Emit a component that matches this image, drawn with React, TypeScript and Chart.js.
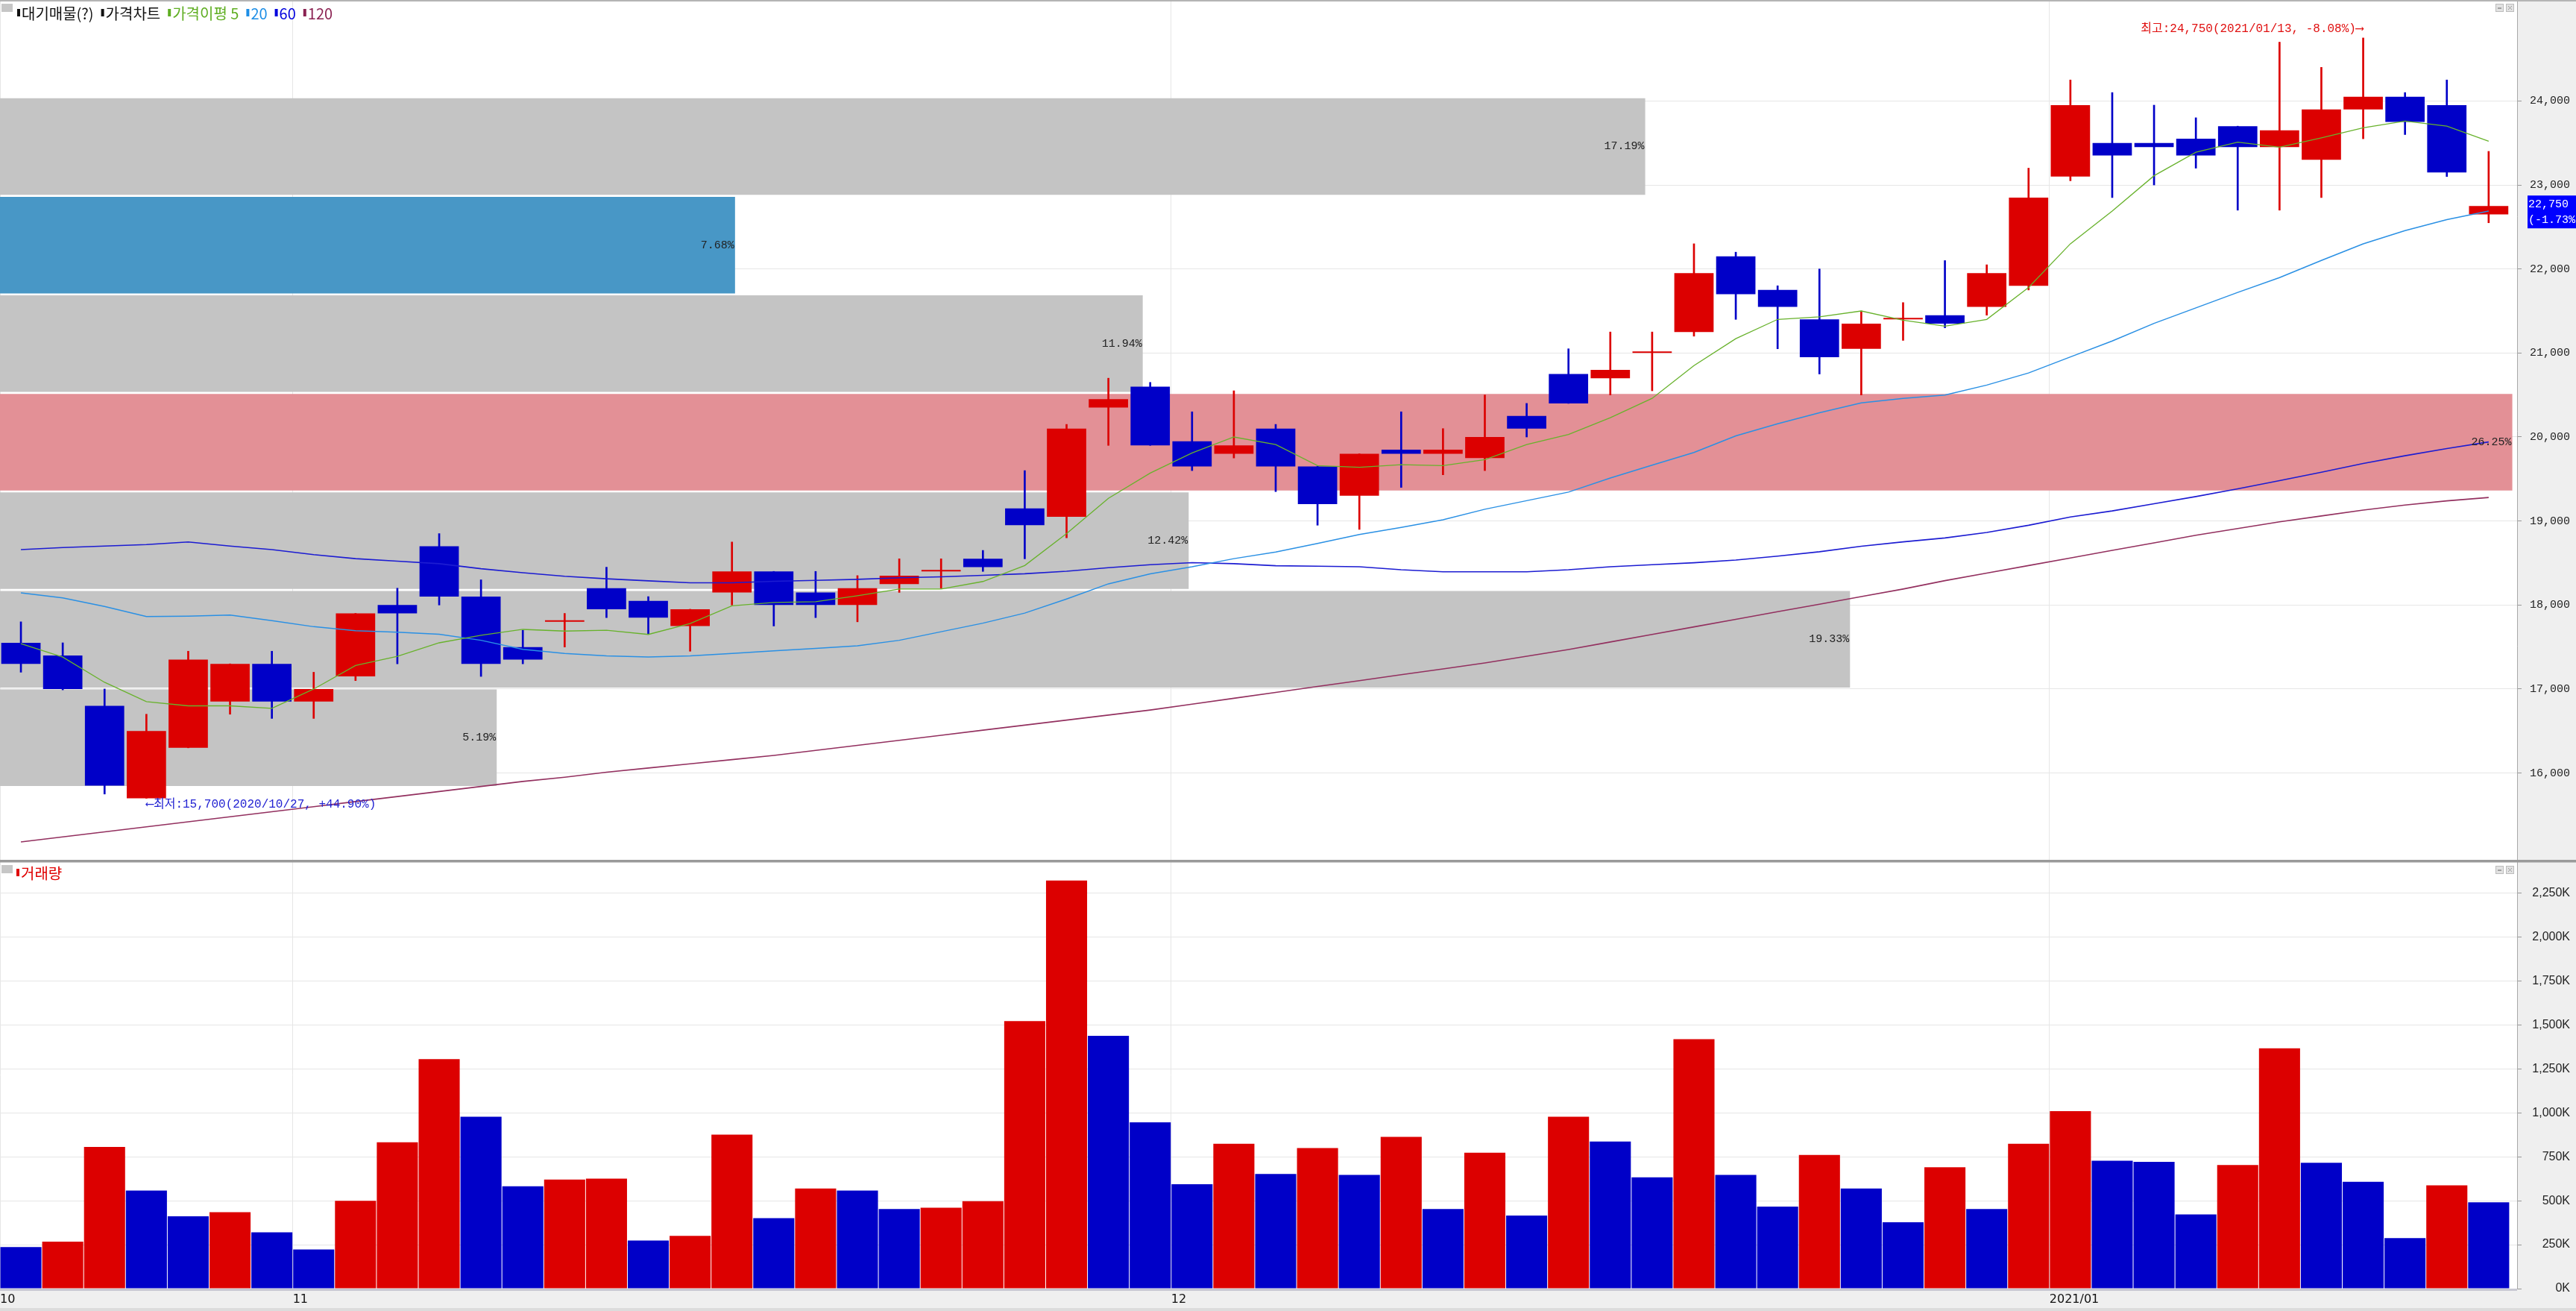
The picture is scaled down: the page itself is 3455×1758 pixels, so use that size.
import { useEffect, useRef } from 'react';
import { Chart, registerables } from 'chart.js';

Chart.register(...registerables);

// ---------------- data ----------------
const dates = [
  '2020/10/22', '2020/10/23', '2020/10/26', '2020/10/27', '2020/10/28', '2020/10/29', '2020/10/30',
  '2020/11/02', '2020/11/03', '2020/11/04', '2020/11/05', '2020/11/06', '2020/11/09', '2020/11/10',
  '2020/11/11', '2020/11/12', '2020/11/13', '2020/11/16', '2020/11/17', '2020/11/18', '2020/11/19',
  '2020/11/20', '2020/11/23', '2020/11/24', '2020/11/25', '2020/11/26', '2020/11/27', '2020/11/30',
  '2020/12/01', '2020/12/02', '2020/12/03', '2020/12/04', '2020/12/07', '2020/12/08', '2020/12/09',
  '2020/12/10', '2020/12/11', '2020/12/14', '2020/12/15', '2020/12/16', '2020/12/17', '2020/12/18',
  '2020/12/21', '2020/12/22', '2020/12/23', '2020/12/24', '2020/12/28', '2020/12/29', '2020/12/30',
  '2021/01/04', '2021/01/05', '2021/01/06', '2021/01/07', '2021/01/08', '2021/01/11', '2021/01/12',
  '2021/01/13', '2021/01/14', '2021/01/15', '2021/01/18',
];

const opens = [
  17550, 17400, 16800, 15700, 16300, 16850, 17300, 16850, 17150, 18000,
  18700, 18100, 17500, 17800, 18200, 18050, 17750, 18150, 18400, 18150,
  18000, 18250, 18400, 18550, 19150, 19050, 20350, 20600, 19950, 19800,
  20100, 19650, 19300, 19850, 19800, 19750, 20250, 20750, 20700, 21000,
  21250, 22150, 21750, 21400, 21050, 21400, 21450, 21550, 21800, 23100,
  23500, 23500, 23550, 23700, 23450, 23300, 23900, 24050, 23950, 22650,
];
const highs = [
  17800, 17550, 17000, 16700, 17450, 17300, 17450, 17200, 17900, 18200,
  18850, 18300, 17700, 17900, 18450, 18100, 17950, 18750, 18400, 18400,
  18350, 18550, 18550, 18650, 19600, 20150, 20700, 20650, 20300, 20550,
  20150, 19650, 19800, 20300, 20100, 20500, 20400, 21050, 21250, 21250,
  22300, 22200, 21800, 22000, 21500, 21600, 22100, 22050, 23200, 24250,
  24100, 23950, 23800, 23700, 24700, 24400, 24750, 24100, 24250, 23400,
];
const lows = [
  17200, 16990, 15750, 15700, 16300, 16700, 16650, 16650, 17100, 17300,
  18000, 17150, 17300, 17500, 17850, 17650, 17450, 18000, 17750, 17850,
  17800, 18150, 18200, 18400, 18550, 18800, 19900, 19900, 19600, 19750,
  19350, 18950, 18900, 19400, 19550, 19600, 20000, 20400, 20500, 20550,
  21200, 21400, 21050, 20750, 20500, 21150, 21300, 21450, 21750, 23050,
  22850, 23000, 23200, 22700, 22700, 22850, 23550, 23600, 23100, 22550,
];
const closes = [
  17300, 17000, 15850, 16500, 17350, 17300, 16850, 17000, 17900, 17900,
  18100, 17300, 17350, 17800, 17950, 17850, 17950, 18400, 18000, 18000,
  18200, 18350, 18400, 18450, 18950, 20100, 20450, 19900, 19650, 19900,
  19650, 19200, 19800, 19800, 19850, 20000, 20100, 20400, 20800, 21000,
  21950, 21700, 21550, 20950, 21350, 21400, 21350, 21950, 22850, 23950,
  23350, 23450, 23350, 23450, 23650, 23900, 24050, 23750, 23150, 22750,
];
const volumes = [
  236000, 267000, 806000, 558000, 411000, 435000, 320000, 223000, 499000, 832000,
  1305000, 978000, 582000, 620000, 626000, 274000, 300000, 876000, 401000, 569000,
  558000, 453000, 460000, 497000, 1521000, 2321000, 1438000, 946000, 594000, 824000,
  652000, 799000, 647000, 863000, 453000, 773000, 416000, 978000, 837000, 633000,
  1419000, 647000, 466000, 760000, 569000, 377000, 690000, 453000, 824000, 1009000,
  727000, 721000, 422000, 703000, 1367000, 716000, 607000, 287000, 587000, 491000,
];
const ma5 = [
  17540, 17380, 17080, 16850, 16800, 16800, 16770, 17000, 17280, 17390,
  17550, 17640, 17710, 17690, 17700, 17650, 17780, 17990, 18030, 18040,
  18110, 18190, 18190, 18280, 18470, 18850, 19270, 19570, 19810, 20000,
  19910, 19660, 19640, 19670, 19660, 19730, 19910, 20030, 20230, 20460,
  20850, 21170, 21400, 21430, 21500, 21390, 21320, 21400, 21780, 22300,
  22690, 23110, 23390, 23510, 23450, 23560, 23680, 23760, 23700, 23520,
];
const ma20 = [
  18144, 18084, 17982, 17862, 17868, 17880, 17814, 17742, 17694, 17676,
  17652, 17580, 17472, 17424, 17394, 17382, 17394, 17424, 17454, 17484,
  17514, 17580, 17682, 17784, 17904, 18072, 18252, 18372, 18456, 18552,
  18630, 18732, 18840, 18924, 19014, 19140, 19242, 19344, 19512, 19665,
  19816, 20013, 20158, 20289, 20407, 20460, 20499, 20618, 20762, 20953,
  21143, 21353, 21537, 21721, 21898, 22102, 22299, 22457, 22588, 22690,
];
const ma60 = [
  18660, 18684, 18702, 18720, 18750, 18702, 18660, 18600, 18552, 18522,
  18492, 18432, 18384, 18342, 18312, 18288, 18264, 18264, 18282, 18294,
  18306, 18324, 18336, 18354, 18372, 18402, 18444, 18480, 18504, 18492,
  18468, 18462, 18456, 18420, 18396, 18396, 18396, 18420, 18456, 18480,
  18503, 18536, 18582, 18634, 18700, 18752, 18798, 18864, 18949, 19048,
  19120, 19205, 19291, 19383, 19481, 19580, 19685, 19777, 19862, 19941,
];
const ma120 = [
  15180, 15240, 15300, 15360, 15420, 15480, 15540, 15600, 15660, 15720,
  15780, 15840, 15900, 15950, 16010, 16060, 16110, 16160, 16210, 16270,
  16330, 16390, 16450, 16510, 16570, 16630, 16690, 16750, 16820, 16890,
  16960, 17030, 17100, 17170, 17240, 17310, 17390, 17470, 17560, 17650,
  17740, 17830, 17920, 18010, 18100, 18190, 18290, 18380, 18470, 18560,
  18650, 18740, 18830, 18910, 18990, 19060, 19130, 19190, 19240, 19280,
];
// volume-at-price bands (bottom to top)
const bandEdges = [15833, 17006, 18179, 19352, 20525, 21698, 22871, 24044];
const bandPct = [5.19, 19.33, 12.42, 26.25, 11.94, 7.68, 17.19];

const priceTicks = [16000, 17000, 18000, 19000, 20000, 21000, 22000, 23000, 24000];
const volumeTicks = [0, 250000, 500000, 750000, 1000000, 1250000, 1500000, 1750000, 2000000, 2250000];

// ---------------- styling ----------------
const W = 3455;
const TOP_H = 1155;
const BOT_H = 603;
const X_MIN = -0.5;
const X_MAX = 59.68;
const PRICE_MIN = 14958;
const PRICE_MAX = 25184;
const VOL_MAX = 2430000;

const RED = '#dc0000';
const BLUE = '#0000c8';
const BAND_GRAY = '#c4c4c4';
const BAND_BLUE = '#4897c6';
const BAND_PINK = '#e39096';
const GRID = '#e6e6e6';
const AXIS_BG = '#efefef';
const MONO = '"Liberation Mono", "DejaVu Sans Mono", "Noto Sans CJK KR", monospace';
const KR = '"Noto Sans CJK KR", "Noto Sans", sans-serif';

const fmt = (v: number) => v.toLocaleString('en-US');

const candleColors = closes.map((c, i) => (c >= opens[i] ? RED : BLUE));
const volumeColors = volumes.map((v, i) => (i > 0 && v > volumes[i - 1] ? RED : BLUE));
const lastClose = closes[closes.length - 1];
const maxPct = Math.max(...bandPct);
const bandColors = bandPct.map((p, i) =>
  lastClose >= bandEdges[i] && lastClose < bandEdges[i + 1] ? BAND_BLUE : p === maxPct ? BAND_PINK : BAND_GRAY
);

const monthStartIdx = dates
  .map((d, i) => (i === 0 || d.slice(0, 7) !== dates[i - 1].slice(0, 7) ? i : -1))
  .filter((i) => i >= 0);
const monthTickValues = monthStartIdx.map((i) => i - 0.5);
function monthLabel(idx: number) {
  const d = dates[idx];
  if (!d) return '';
  const [y, m] = d.split('/');
  if (idx > 0 && dates[idx - 1].slice(0, 4) !== y) return `${y}/${m}`;
  return String(Number(m));
}

function zeroPad(scale: any) {
  scale.paddingLeft = 0;
  scale.paddingRight = 0;
  scale.paddingTop = 0;
  scale.paddingBottom = 0;
}

function drawIcons(ctx: CanvasRenderingContext2D, right: number, y: number) {
  ctx.save();
  ctx.lineWidth = 1;
  for (const off of [29, 15]) {
    ctx.fillStyle = '#e2e2e2';
    ctx.fillRect(right - off, y, 11, 11);
    ctx.strokeStyle = '#bcbcbc';
    ctx.strokeRect(right - off + 0.5, y + 0.5, 10, 10);
  }
  ctx.fillStyle = '#a0a0a0';
  ctx.fillRect(right - 26, y + 5, 5, 2);
  ctx.strokeStyle = '#a0a0a0';
  ctx.beginPath();
  ctx.moveTo(right - 12, y + 3);
  ctx.lineTo(right - 7, y + 8);
  ctx.moveTo(right - 7, y + 3);
  ctx.lineTo(right - 12, y + 8);
  ctx.stroke();
  ctx.restore();
}

function drawLegend(ctx: CanvasRenderingContext2D, items: { text: string; color: string }[], x0: number, yMid: number) {
  ctx.save();
  ctx.font = `20px ${KR}`;
  ctx.textBaseline = 'middle';
  ctx.textAlign = 'left';
  let x = x0;
  for (const it of items) {
    ctx.fillStyle = it.color;
    ctx.fillRect(x, yMid - 5, 4, 10);
    ctx.fillText(it.text, x + 6, yMid + 1);
    x += 6 + ctx.measureText(it.text).width + 10;
  }
  ctx.restore();
}

const topLegend = [
  { text: '대기매물(?)', color: '#111111' },
  { text: '가격차트', color: '#111111' },
  { text: '가격이평 5', color: '#5fae22' },
  { text: '20', color: '#1d8ee6' },
  { text: '60', color: '#0000dd' },
  { text: '120', color: '#8b2252' },
];

const topPlugin = {
  id: 'topDecor',
  beforeDraw(chart: any) {
    const { ctx, chartArea: a, width, height } = chart;
    ctx.save();
    ctx.fillStyle = '#ffffff';
    ctx.fillRect(0, 0, width, height);
    ctx.fillStyle = AXIS_BG;
    ctx.fillRect(a.right, 0, width - a.right, height);
    ctx.restore();
  },
  afterDatasetsDraw(chart: any) {
    const { ctx } = chart;
    const meta = chart.getDatasetMeta(6);
    ctx.save();
    ctx.font = `15px ${MONO}`;
    ctx.fillStyle = '#222222';
    ctx.textAlign = 'right';
    ctx.textBaseline = 'middle';
    meta.data.forEach((el: any, i: number) => {
      ctx.fillText(bandPct[i].toFixed(2) + '%', el.x - 1, el.y);
    });
    ctx.restore();
  },
  afterDraw(chart: any) {
    const { ctx, chartArea: a, width, scales } = chart;
    const xs = scales.x;
    const ys = scales.y;
    ctx.save();
    // borders
    ctx.fillStyle = '#b4b4b4';
    ctx.fillRect(0, 0, width, 2);
    ctx.fillStyle = '#9a9a9a';
    ctx.fillRect(0, a.bottom - 1, width, 2);
    // high / low annotations
    let hi = 0;
    let lo = 0;
    highs.forEach((h, i) => { if (h > highs[hi]) hi = i; });
    lows.forEach((l, i) => { if (l < lows[lo]) lo = i; });
    ctx.font = `16px ${MONO}`;
    ctx.textBaseline = 'middle';
    const hiPct = ((lastClose - highs[hi]) / highs[hi]) * 100;
    ctx.fillStyle = '#e01010';
    ctx.textAlign = 'right';
    ctx.fillText(`최고:${fmt(highs[hi])}(${dates[hi]}, ${hiPct.toFixed(2)}%)⟶`, xs.getPixelForValue(hi), ys.getPixelForValue(highs[hi]) - 12);
    const loPct = ((lastClose - lows[lo]) / lows[lo]) * 100;
    ctx.fillStyle = '#2323d2';
    ctx.textAlign = 'left';
    ctx.fillText(`⟵최저:${fmt(lows[lo])}(${dates[lo]}, +${loPct.toFixed(2)}%)`, xs.getPixelForValue(lo), ys.getPixelForValue(lows[lo]) + 8);
    // current price box
    const prev = closes[closes.length - 2];
    const chg = ((lastClose - prev) / prev) * 100;
    const py = ys.getPixelForValue(lastClose);
    ctx.fillStyle = '#0000ff';
    ctx.fillRect(a.right + 14, py - 14, width - a.right - 14, 44);
    ctx.fillStyle = '#ffffff';
    ctx.font = `15px ${MONO}`;
    ctx.textAlign = 'left';
    ctx.fillText(fmt(lastClose), a.right + 15, py - 2);
    ctx.fillText(`(${chg.toFixed(2)}%)`, a.right + 15, py + 19);
    // legend
    ctx.fillStyle = '#c6c6c6';
    ctx.fillRect(2, 5, 15, 11);
    ctx.restore();
    drawLegend(ctx, topLegend, 23, 17);
    drawIcons(ctx, a.right, 5);
  },
};

const bottomPlugin = {
  id: 'bottomDecor',
  beforeDraw(chart: any) {
    const { ctx, chartArea: a, width, height } = chart;
    ctx.save();
    ctx.fillStyle = '#ffffff';
    ctx.fillRect(0, 0, width, height);
    ctx.fillStyle = AXIS_BG;
    ctx.fillRect(a.right, 0, width - a.right, height);
    ctx.fillRect(0, a.bottom, width, height - a.bottom);
    ctx.restore();
  },
  afterDraw(chart: any) {
    const { ctx, chartArea: a, width, height } = chart;
    ctx.save();
    ctx.fillStyle = '#9a9a9a';
    ctx.fillRect(0, 0, width, 1.5);
    ctx.fillStyle = '#c8c8d2';
    ctx.fillRect(0, a.bottom, a.right, 3);
    ctx.fillStyle = '#dcdcdc';
    ctx.fillRect(0, height - 4, width, 4);
    ctx.fillStyle = '#c6c6c6';
    ctx.fillRect(2, 5, 15, 11);
    ctx.restore();
    drawLegend(ctx, [{ text: '거래량', color: '#e00000' }], 22, 15);
    drawIcons(ctx, a.right, 6);
  },
};

function topConfig(): any {
  const pts = (arr: number[]) => arr.map((v, i) => ({ x: i, y: v }));
  const line = (label: string, arr: number[], color: string, w: number, order: number) => ({
    type: 'line', label, data: pts(arr), borderColor: color, borderWidth: w, pointRadius: 0,
    tension: 0, fill: false, order, xAxisID: 'x', yAxisID: 'y',
  });
  return {
    type: 'line',
    data: {
      datasets: [
        line('MA5', ma5, '#68b22c', 1.3, 0),
        line('MA20', ma20, '#2a90e4', 1.5, 1),
        line('MA60', ma60, '#1c1cd2', 1.6, 2),
        line('MA120', ma120, '#93305f', 1.6, 3),
        {
          type: 'bar', label: 'body',
          data: opens.map((o, i) => ({ x: i, y: [Math.min(o, closes[i]), Math.max(o, closes[i])] })),
          backgroundColor: candleColors, borderWidth: 0, barPercentage: 0.94, categoryPercentage: 1,
          minBarLength: 2, grouped: false, order: 5, xAxisID: 'x', yAxisID: 'y',
        },
        {
          type: 'bar', label: 'wick',
          data: lows.map((l, i) => ({ x: i, y: [l, highs[i]] })),
          backgroundColor: candleColors, borderWidth: 0, barThickness: 2, grouped: false, order: 6,
          xAxisID: 'x', yAxisID: 'y',
        },
        {
          type: 'bar', label: 'bands', indexAxis: 'y',
          data: bandPct.map((p, i) => ({ x: p, y: (bandEdges[i] + bandEdges[i + 1]) / 2 })),
          backgroundColor: bandColors, borderWidth: 0, barPercentage: 0.98, categoryPercentage: 1,
          grouped: false, order: 10, xAxisID: 'xb', yAxisID: 'yb',
        },
      ],
    },
    options: {
      animation: false,
      responsive: false,
      devicePixelRatio: 1,
      events: [],
      layout: { padding: { top: 2, right: 8, bottom: 1, left: 0 } },
      plugins: { legend: { display: false }, tooltip: { enabled: false } },
      scales: {
        x: {
          type: 'linear', min: X_MIN, max: X_MAX, bounds: 'data', offset: false,
          afterBuildTicks: (s: any) => { s.ticks = monthTickValues.map((v) => ({ value: v })); },
          afterFit: (s: any) => { s.height = 0; zeroPad(s); },
          ticks: { display: false },
          grid: { color: GRID, offset: false, drawTicks: false },
          border: { display: false },
        },
        y: {
          type: 'linear', position: 'right', min: PRICE_MIN, max: PRICE_MAX, bounds: 'data', beginAtZero: false,
          afterBuildTicks: (s: any) => { s.ticks = priceTicks.map((v) => ({ value: v })); },
          afterFit: (s: any) => { s.width = 71; zeroPad(s); },
          ticks: {
            font: { family: MONO, size: 15 }, color: '#222222', crossAlign: 'near', padding: 11,
            callback: (v: number) => fmt(v),
          },
          grid: { color: GRID, tickColor: '#999999', tickLength: 6, drawTicks: true, offset: false },
          border: { display: true, color: '#a8a8a8' },
        },
        xb: { type: 'linear', min: 0, max: 26.3, display: false, offset: false },
        yb: { type: 'linear', min: PRICE_MIN, max: PRICE_MAX, display: false, offset: false, bounds: 'data', beginAtZero: false },
      },
    },
    plugins: [topPlugin],
  };
}

function bottomConfig(): any {
  return {
    type: 'bar',
    data: {
      datasets: [
        {
          type: 'bar', label: '거래량',
          data: volumes.map((v, i) => ({ x: i, y: v })),
          backgroundColor: volumeColors, borderWidth: 0, barPercentage: 0.982, categoryPercentage: 1,
          xAxisID: 'x', yAxisID: 'y',
        },
      ],
    },
    options: {
      animation: false,
      responsive: false,
      devicePixelRatio: 1,
      events: [],
      layout: { padding: { top: 0, right: 8, bottom: 0, left: 0 } },
      plugins: { legend: { display: false }, tooltip: { enabled: false } },
      scales: {
        x: {
          type: 'linear', min: X_MIN, max: X_MAX, bounds: 'data', offset: false,
          afterBuildTicks: (s: any) => { s.ticks = monthTickValues.map((v) => ({ value: v })); },
          afterFit: (s: any) => { s.height = 30; zeroPad(s); },
          ticks: {
            display: true, align: 'start', autoSkip: false, maxRotation: 0, minRotation: 0, padding: 0,
            font: { family: '"DejaVu Sans", sans-serif', size: 16 }, color: '#111111',
            callback: (v: number) => monthLabel(Math.round(v + 0.5)),
          },
          grid: { color: GRID, offset: false, drawTicks: true, tickLength: 5, tickColor: 'rgba(0,0,0,0)' },
          border: { display: false },
        },
        y: {
          type: 'linear', position: 'right', min: 0, max: VOL_MAX, bounds: 'data',
          afterBuildTicks: (s: any) => { s.ticks = volumeTicks.map((v) => ({ value: v })); },
          afterFit: (s: any) => { s.width = 71; zeroPad(s); },
          ticks: {
            font: { family: '"Liberation Sans", Arial, sans-serif', size: 16 }, color: '#222222',
            crossAlign: 'far', padding: 14,
            callback: (v: number) => fmt(v / 1000) + 'K',
          },
          grid: { color: GRID, tickColor: '#999999', tickLength: 6, drawTicks: true, offset: false },
          border: { display: true, color: '#a8a8a8' },
        },
      },
    },
    plugins: [bottomPlugin],
  };
}

export default function App() {
  const topRef = useRef<HTMLCanvasElement>(null);
  const botRef = useRef<HTMLCanvasElement>(null);
  useEffect(() => {
    document.body.style.margin = '0';
    document.body.style.overflow = 'hidden';
    const top = new Chart(topRef.current as HTMLCanvasElement, topConfig());
    const bot = new Chart(botRef.current as HTMLCanvasElement, bottomConfig());
    return () => {
      top.destroy();
      bot.destroy();
    };
  }, []);
  return (
    <div style={{ width: W, height: TOP_H + BOT_H, overflow: 'hidden', background: '#ffffff' }}>
      <canvas ref={topRef} width={W} height={TOP_H} style={{ display: 'block', width: W, height: TOP_H }} />
      <canvas ref={botRef} width={W} height={BOT_H} style={{ display: 'block', width: W, height: BOT_H }} />
    </div>
  );
}
